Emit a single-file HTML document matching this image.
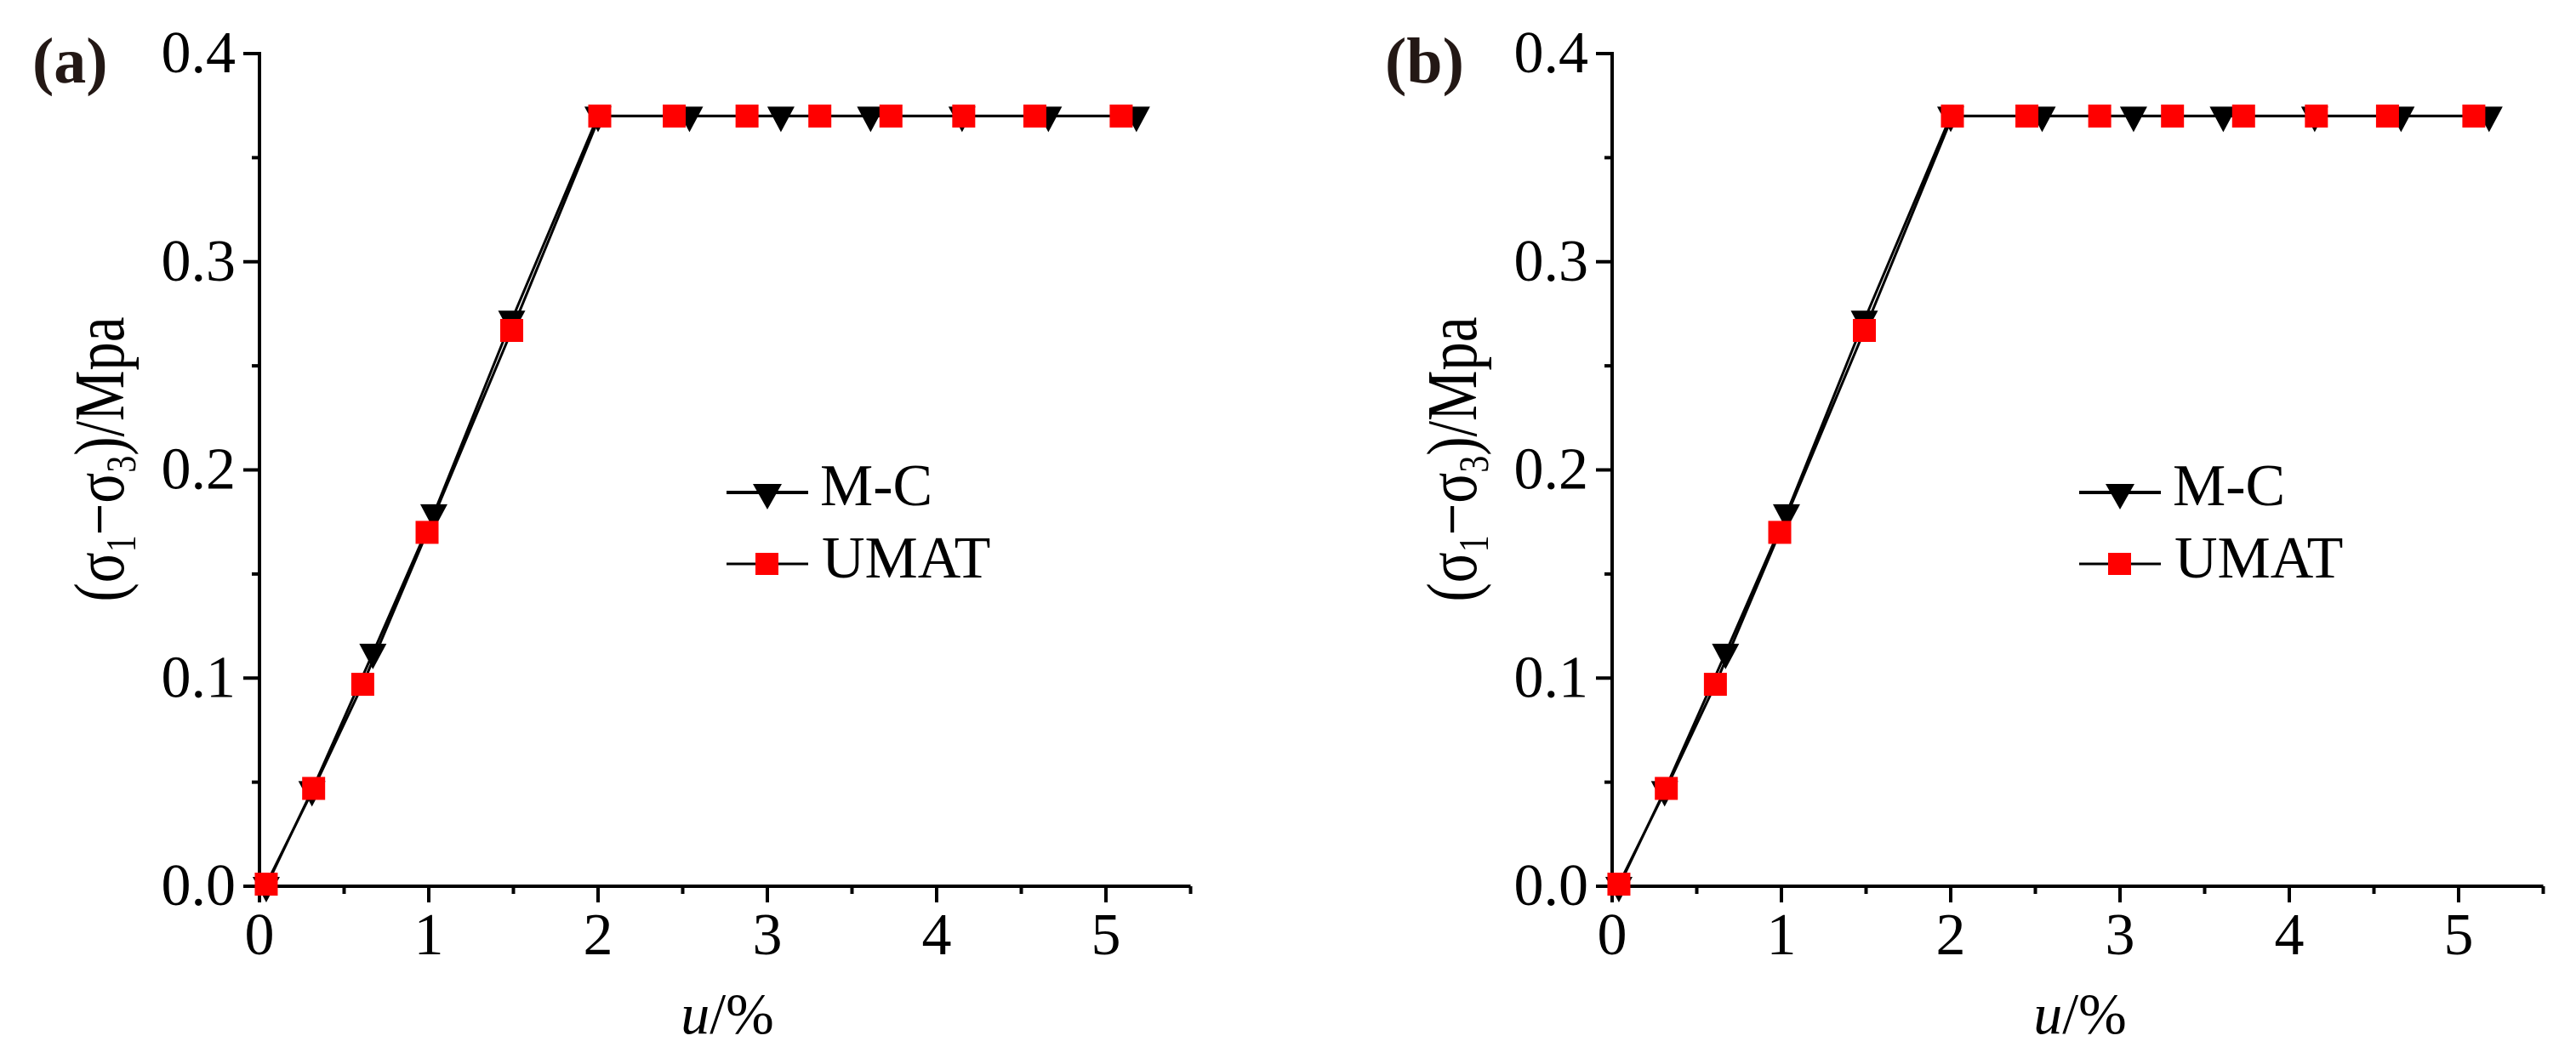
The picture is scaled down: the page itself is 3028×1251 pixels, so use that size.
<!DOCTYPE html>
<html><head><meta charset="utf-8"><style>
html,body{margin:0;padding:0;background:#fff;}
svg{display:block;font-family:"Liberation Serif","DejaVu Serif",serif;}
</style></head><body>
<svg id="chart" width="3028" height="1251" viewBox="0 0 3028 1251" xmlns="http://www.w3.org/2000/svg"></svg>
<script>
const xTicks = [0, 1, 2, 3, 4, 5];
const yTicks = [0.0, 0.1, 0.2, 0.3, 0.4];
const yTickLabels = ["0.0", "0.1", "0.2", "0.3", "0.4"];
const mcXa = [0.04, 0.31, 0.67, 1.03, 1.49, 2.0, 2.54, 3.08, 3.61, 4.15, 4.66, 5.18];
const mcYa = [0, 0.046, 0.112, 0.179, 0.272, 0.37, 0.37, 0.37, 0.37, 0.37, 0.37, 0.37];
const umXa = [0.04, 0.32, 0.61, 0.99, 1.49, 2.01, 2.45, 2.88, 3.31, 3.73, 4.16, 4.58, 5.09];
const umYa = [0.001, 0.047, 0.097, 0.17, 0.267, 0.37, 0.37, 0.37, 0.37, 0.37, 0.37, 0.37, 0.37];
const mcXb = [0.04, 0.31, 0.67, 1.03, 1.49, 2.0, 2.54, 3.08, 3.61, 4.15, 4.66, 5.18];
const mcYb = [0, 0.046, 0.112, 0.179, 0.272, 0.37, 0.37, 0.37, 0.37, 0.37, 0.37, 0.37];
const umXb = [0.04, 0.32, 0.61, 0.99, 1.49, 2.01, 2.45, 2.88, 3.31, 3.73, 4.16, 4.58, 5.09];
const umYb = [0.001, 0.047, 0.097, 0.17, 0.267, 0.37, 0.37, 0.37, 0.37, 0.37, 0.37, 0.37, 0.37];

const NS = "http://www.w3.org/2000/svg";
const svg = document.getElementById("chart");
function mk(tag, attrs, parent) {
  const e = document.createElementNS(NS, tag);
  for (const k in attrs) e.setAttribute(k, attrs[k]);
  parent.appendChild(e);
  return e;
}
function panel(off, letter, mcX, mcY, umX, umY) {
  const g = mk("g", {}, svg);
  
  
  const X = v => off + 305 + v * 199;
  const Y = v => 1042 - v * 2447.5;
  const lab = mk("text", {x: off + 38, y: 97, "font-size": 76, "font-weight": "bold", fill: "#231815"}, g);
  lab.textContent = "(" + letter + ")";
  
  
  const ax = mk("path", {d: `M${X(0)} ${Y(0.4)-2} V${Y(0)} H${X(5.5)}`, stroke: "#000", "stroke-width": 4, fill: "none"}, g);
  
  
  for (let v = 0; v <= 5.5001; v += 0.5) {
    const major = Math.abs(v - Math.round(v)) < 1e-6;
    const t = mk("line", {x1: X(v), x2: X(v), y1: Y(0), y2: Y(0) + (major ? 19 : 9), stroke: "#000", "stroke-width": 4}, g);
    
    
  }
  for (let v = 0; v <= 0.4001; v += 0.05) {
    const major = Math.abs(v * 10 - Math.round(v * 10)) < 1e-6;
    const t = mk("line", {x1: X(0), x2: X(0) - (major ? 19 : 9), y1: Y(v), y2: Y(v), stroke: "#000", "stroke-width": 4}, g);
    
    
  }
  xTicks.forEach(v => {
    const t = mk("text", {x: X(v), y: 1122, "font-size": 70, "text-anchor": "middle"}, g);
    t.textContent = String(v);
    
    
  });
  yTicks.forEach((v, i) => {
    const t = mk("text", {x: off + 277, y: Y(v) + 22, "font-size": 70, "text-anchor": "end"}, g);
    t.textContent = yTickLabels[i];
    
    
  });
  const xt = mk("text", {x: off + 855, y: 1215, "font-size": 68, "text-anchor": "middle"}, g);
  xt.innerHTML = '<tspan font-style="italic">u</tspan>/%';
  
  
  const yt = mk("text", {x: 0, y: 0, "font-size": 84, "text-anchor": "middle", transform: `translate(${off + 145},540) rotate(-90)`, textLength: 335, lengthAdjust: "spacingAndGlyphs"}, g);
  yt.innerHTML = '(σ<tspan font-size="50" dy="14">1</tspan><tspan dy="-14">−σ</tspan><tspan font-size="50" dy="14">3</tspan><tspan dy="-14">)/Mpa</tspan>';
  
  
  const lineMC = mk("polyline", {points: mcX.map((x, i) => X(x) + "," + Y(mcY[i])).join(" "), stroke: "#000", "stroke-width": 3, fill: "none"}, g);
  
  
  const lineUM = mk("polyline", {points: umX.map((x, i) => X(x) + "," + Y(umY[i])).join(" "), stroke: "#000", "stroke-width": 3, fill: "none"}, g);
  
  
  mcX.forEach((x, i) => {
    const cx = X(x), cy = Y(mcY[i]);
    const p = mk("polygon", {points: `${cx-16},${cy-11} ${cx+16},${cy-11} ${cx},${cy+19}`, fill: "#000"}, g);
    
    
  });
  umX.forEach((x, i) => {
    const cx = X(x), cy = Y(umY[i]);
    const r = mk("rect", {x: cx - 13.5, y: cy - 13.5, width: 27, height: 27, fill: "#ff0000"}, g);
    
    
  });
  const lg = mk("g", {}, g);
  
  
  mk("line", {x1: off + 854, x2: off + 950, y1: 579, y2: 579, stroke: "#000", "stroke-width": 4}, lg);
  mk("polygon", {points: `${off+885},${569} ${off+919},${569} ${off+902},${599}`, fill: "#000"}, lg);
  const l1 = mk("text", {x: off + 964, y: 594, "font-size": 70}, lg);
  l1.textContent = "M-C";
  
  
  mk("line", {x1: off + 854, x2: off + 950, y1: 663, y2: 663, stroke: "#000", "stroke-width": 3}, lg);
  mk("rect", {x: off + 888, y: 650, width: 27, height: 26, fill: "#ff0000"}, lg);
  const l2 = mk("text", {x: off + 966, y: 679, "font-size": 70}, lg);
  l2.textContent = "UMAT";
  
  
}
panel(0, "a", mcXa, mcYa, umXa, umYa);
panel(1590, "b", mcXb, mcYb, umXb, umYb);
</script>
</body></html>
